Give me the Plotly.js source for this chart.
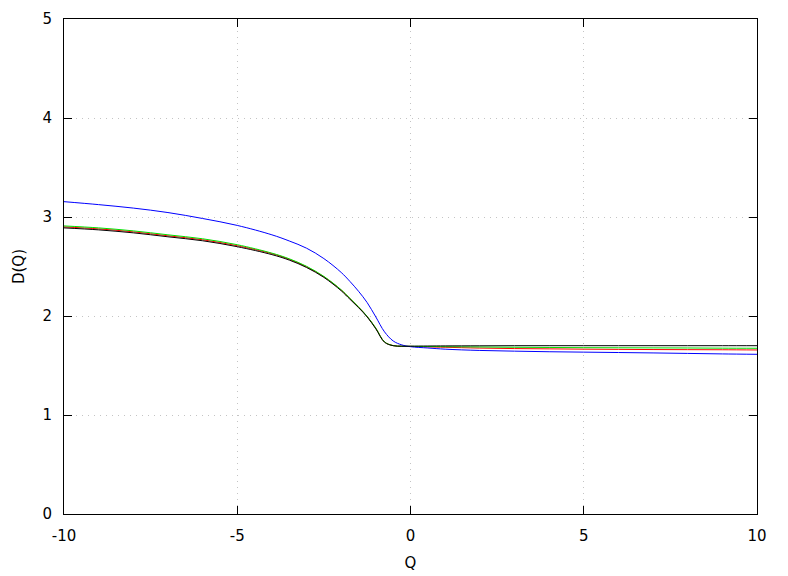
<!DOCTYPE html>
<html>
<head>
<meta charset="utf-8">
<script src="https://cdn.plot.ly/plotly-3.0.1.min.js"></script>
<style>html,body{margin:0;padding:0;background:#fff;}#plot{width:788px;height:576px;}</style>
</head>
<body>
<div id="plot"></div>
<script>
// Q values (sample points)
const qValues = [-10, -9, -8, -7, -6, -5, -4, -3.5, -3, -2.5, -2, -1.75, -1.5, -1.25, -1, -0.75, -0.5, -0.25, 0, 0.5, 1, 2, 3, 4, 5, 6, 7, 8, 9, 10];

// D(Q) series
const redD   = [2.90, 2.88, 2.85, 2.81, 2.77, 2.71, 2.63, 2.573, 2.497, 2.396, 2.262, 2.177, 2.09, 1.994, 1.876, 1.738, 1.701, 1.694, 1.693, 1.688, 1.684, 1.676, 1.671, 1.668, 1.665, 1.663, 1.661, 1.66, 1.659, 1.657];
const greenD = [2.91, 2.89, 2.86, 2.82, 2.78, 2.72, 2.635, 2.578, 2.502, 2.40, 2.265, 2.18, 2.092, 1.996, 1.877, 1.739, 1.701, 1.695, 1.694, 1.692, 1.69, 1.687, 1.684, 1.682, 1.68, 1.679, 1.678, 1.677, 1.675, 1.674];
const blueD  = [3.155, 3.125, 3.09, 3.045, 2.985, 2.915, 2.82, 2.758, 2.685, 2.58, 2.44, 2.35, 2.25, 2.135, 1.99, 1.84, 1.748, 1.708, 1.69, 1.677, 1.665, 1.652, 1.645, 1.639, 1.635, 1.631, 1.627, 1.622, 1.617, 1.613];
const blackD = [2.89, 2.87, 2.84, 2.80, 2.76, 2.70, 2.62, 2.565, 2.49, 2.39, 2.255, 2.17, 2.085, 1.99, 1.87, 1.735, 1.700, 1.695, 1.695, 1.697, 1.698, 1.699, 1.70, 1.70, 1.70, 1.70, 1.70, 1.70, 1.70, 1.70];

const xTicks = [-10, -5, 0, 5, 10];
const yTicks = [0, 1, 2, 3, 4, 5];

function tr(y, color) {
  return {x: qValues, y: y, type: 'scatter', mode: 'lines',
    line: {color: color, width: 1, shape: 'spline', smoothing: 1},
    hoverinfo: 'skip', showlegend: false};
}

const data = [tr(redD, '#ff0000'), tr(greenD, '#00e000'), tr(blueD, '#0000ff'), tr(blackD, '#000000')];

const font = {family: 'DejaVu Sans, sans-serif', size: 15, color: '#000'};
const axisCommon = {
  showline: true, linecolor: '#000', linewidth: 1, mirror: 'ticks',
  ticks: 'inside', ticklen: 8, tickwidth: 1, tickcolor: '#000',
  showgrid: true, gridcolor: '#c4c4c4', griddash: '1px,5px', gridwidth: 1,
  zeroline: false, tickfont: font
};

const layout = {
  width: 788, height: 576,
  margin: {l: 64, r: 31, t: 19, b: 62},
  paper_bgcolor: '#fff', plot_bgcolor: '#fff',
  font: font,
  showlegend: false,
  xaxis: Object.assign({}, axisCommon, {
    range: [-10, 10], tickvals: xTicks, ticktext: xTicks.map(String),
    ticklabelstandoff: 8,
    title: {text: 'Q', font: font, standoff: 13}
  }),
  yaxis: Object.assign({}, axisCommon, {
    range: [0, 5], tickvals: yTicks, ticktext: yTicks.map(String),
    ticklabelstandoff: 8,
    title: {text: 'D(Q)', font: font, standoff: 14}
  })
};

Plotly.newPlot('plot', data, layout, {staticPlot: true, displayModeBar: false});
</script>
</body>
</html>
